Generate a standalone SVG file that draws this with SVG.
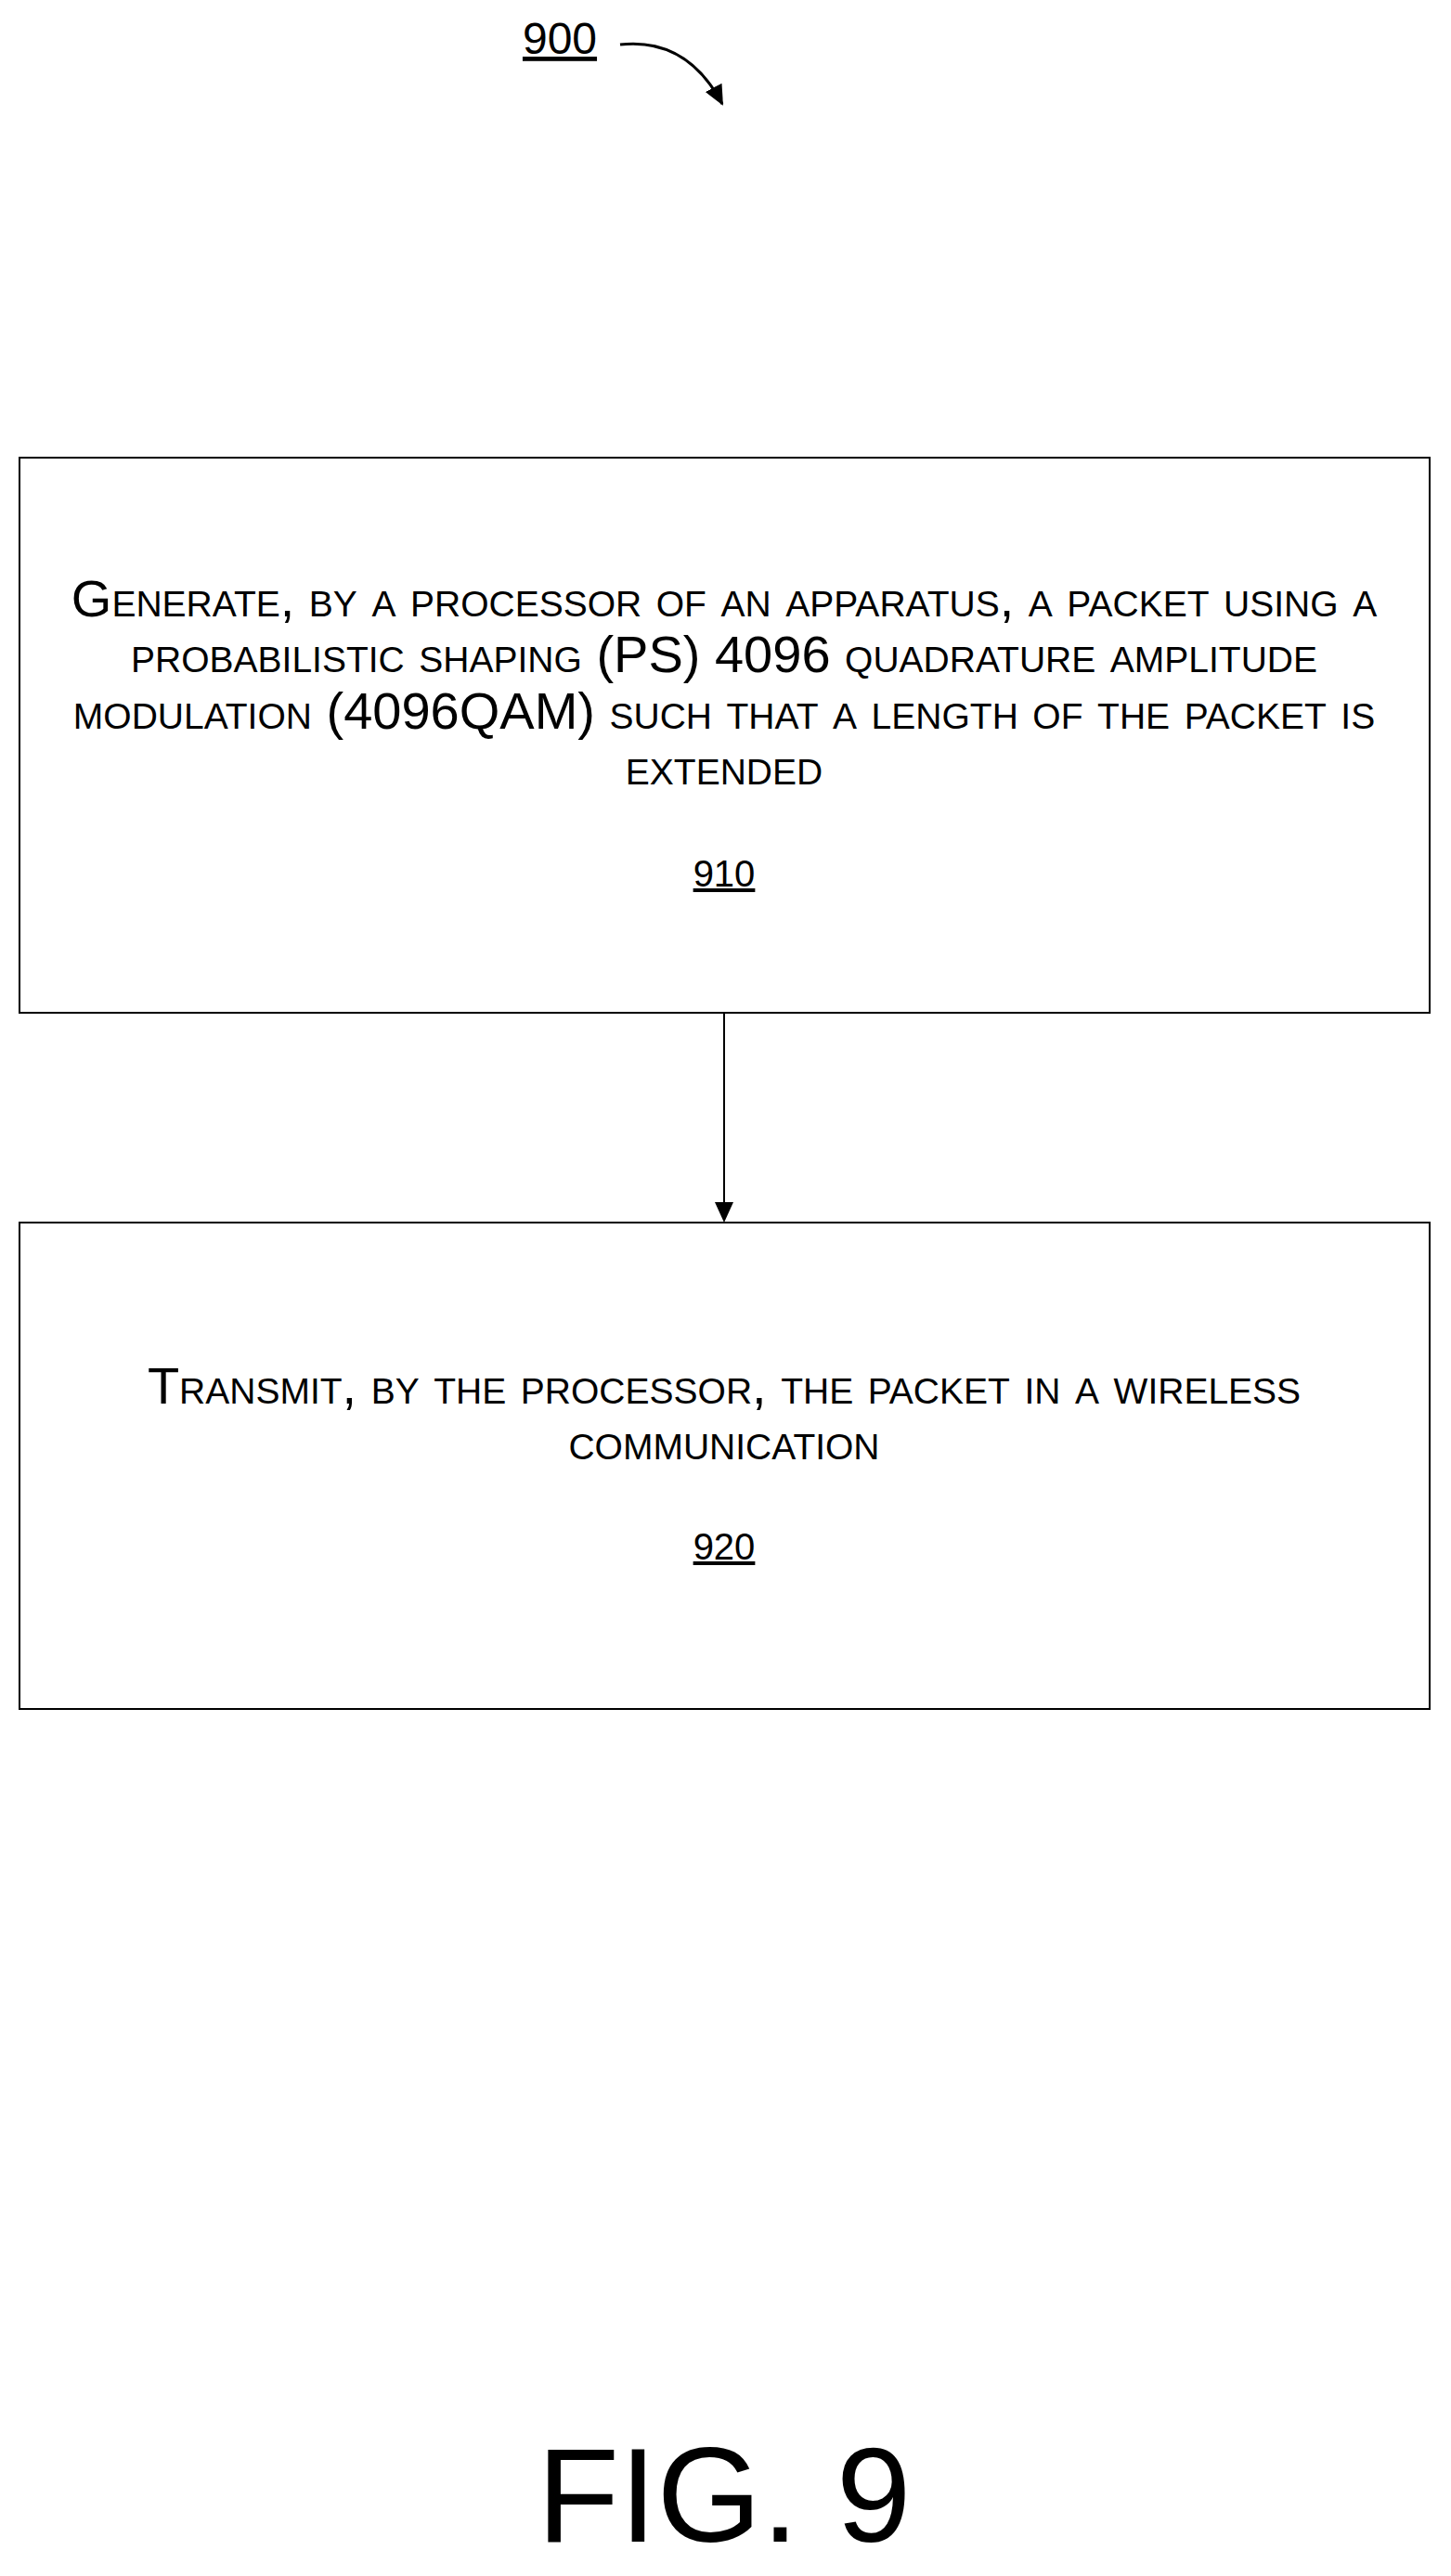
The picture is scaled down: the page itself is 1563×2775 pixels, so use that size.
<svg xmlns="http://www.w3.org/2000/svg" width="1563" height="2775" viewBox="0 0 1563 2775">
<style>
.b{fill:#fff;stroke:#000;stroke-width:2}
.t{font-family:"Liberation Sans",Arial,sans-serif;font-size:56px;font-variant:small-caps;text-anchor:middle;fill:#000}
.n{font-family:"Liberation Sans",Arial,sans-serif;font-size:40px;text-anchor:middle;text-decoration:underline;fill:#000}
</style>
<defs><marker id="a2" markerWidth="24" markerHeight="24" refX="20" refY="12" orient="auto" markerUnits="userSpaceOnUse"><path d="M0,2L22,12L0,22Z" fill="#000"/></marker></defs>
<rect width="1563" height="2775" fill="#fff"/>
<g id="label900"><text x="603" y="58" font-family="Liberation Sans,Arial,sans-serif" font-size="48" text-anchor="middle" text-decoration="underline">900</text></g>
<g id="n910"><rect class="b" x="21" y="493" width="1519" height="598"/>
<text class="t" x="780" y="664">Generate, by a processor of an apparatus, a packet using a</text>
<text class="t" x="780" y="724">probabilistic shaping (PS) 4096 quadrature amplitude</text>
<text class="t" x="780" y="785">modulation (4096QAM) such that a length of the packet is</text>
<text class="t" x="780" y="845">extended</text>
<text class="n" x="780" y="955">910</text></g>
<g id="n920"><rect class="b" x="21" y="1317" width="1519" height="524"/>
<text class="t" x="780" y="1512">Transmit, by the processor, the packet in a wireless</text>
<text class="t" x="780" y="1572">communication</text>
<text class="n" x="780" y="1680">920</text></g>
<g id="connectors">
<path d="M668,48 Q740,40 778,112" fill="none" stroke="#000" stroke-width="3" marker-end="url(#a2)"/>
<line x1="780" y1="1091" x2="780" y2="1315" stroke="#000" stroke-width="2" marker-end="url(#a2)"/>
</g>
<text x="780" y="2738" font-family="Liberation Sans,Arial,sans-serif" font-size="145" text-anchor="middle">FIG. 9</text>
</svg>
